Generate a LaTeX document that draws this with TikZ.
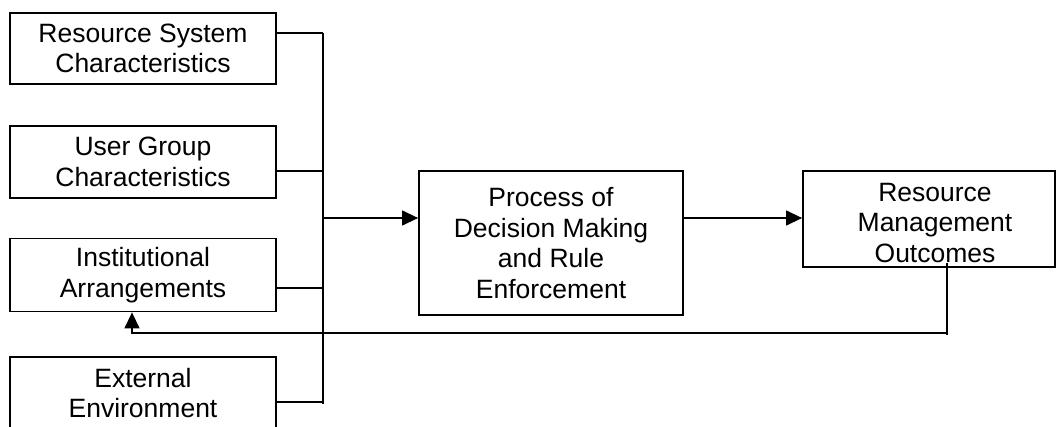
\documentclass[tikz,border=0pt]{standalone}
\usepackage{fontspec}
\setmainfont{Liberation Sans}
\usetikzlibrary{arrows.meta,calc}
\tikzset{
  txt/.style={align=center, inner sep=0pt, font=\fontsize{26.5}{30.5}\selectfont},
  boxnode/.style={txt, draw=black, line width=1.8pt},
  conn/.style={draw=black, line width=1.3pt},
  arr/.style={conn, -{Triangle[length=16pt,width=15pt]}},
}
\begin{document}
\begin{tikzpicture}[x=1pt,y=-1pt]
\useasboundingbox (0,0) rectangle (1056,426);
\clip (0,0) rectangle (1056,426);
\node[boxnode, minimum width=266pt, minimum height=71pt] (b1) at (143,48.5) {Resource System\\Characteristics};
\node[boxnode, minimum width=266pt, minimum height=72pt] (b2) at (143,162) {User Group\\Characteristics};
\node[boxnode, minimum width=266pt, minimum height=73pt] (b3) at (143,275) {Institutional\\Arrangements};
\node[boxnode, minimum width=266pt, minimum height=72pt, anchor=north] (b4) at (143,356) {External\\Environment};
\node[boxnode, minimum width=264pt, minimum height=144pt] (p) at (551,243) {Process of\\Decision Making\\and Rule\\Enforcement};
\node[boxnode, minimum width=252pt, minimum height=96pt] (r) at (929,219) {};
\node[txt] (rt) at (935,223) {Resource\\Management\\Outcomes};
% bus
\coordinate (busTop) at (323,33);
\coordinate (busBot) at (323,404);
\draw[conn] (busTop) -- (busBot);
\draw[conn] (b1.east |- busTop) -- (busTop);
\draw[conn] (b2.east |- {(0,171)}) -- (323,171);
\draw[conn] (b3.east |- {(0,288)}) -- (323,288);
\draw[conn] (b4.east |- {(0,402)}) -- (323,402);
\coordinate (busOut) at (323,218);
\draw[arr] (busOut) -- (p.west |- busOut);
\draw[arr] (p.east |- busOut) -- (r.west |- busOut);
% feedback
\coordinate (fbStart) at (947,263);
\coordinate (fbEnd) at (947,335);
\coordinate (fbCorner) at (947,333);
\coordinate (fbLeft) at (132,333);
\draw[conn] (fbStart) -- (fbEnd);
\draw[arr] (fbCorner) -- (fbLeft) -- (fbLeft |- b3.south);
\end{tikzpicture}
\end{document}
